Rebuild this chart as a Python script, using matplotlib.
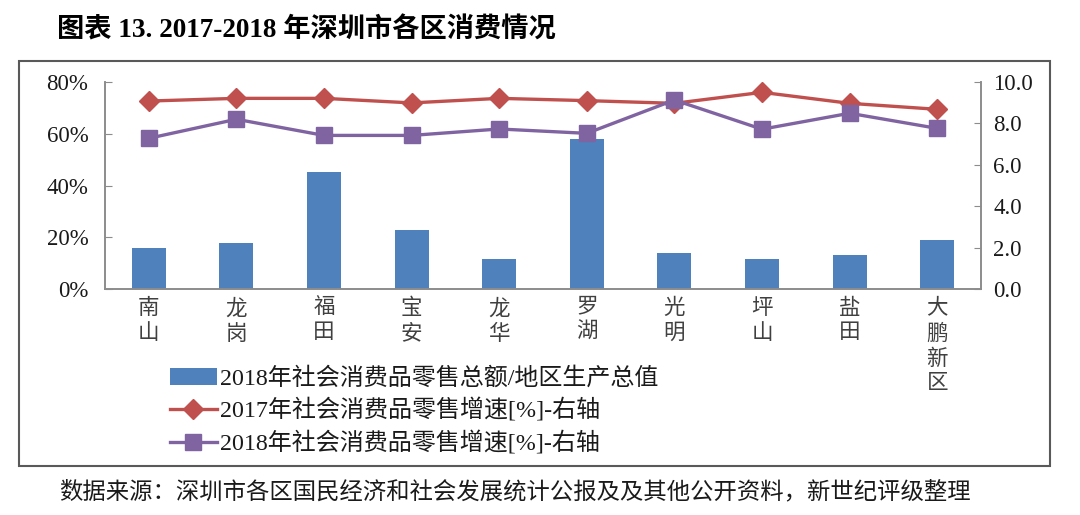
import matplotlib
matplotlib.use("Agg")
import matplotlib.pyplot as plt
from matplotlib.patches import Rectangle
from matplotlib.ticker import FuncFormatter, MultipleLocator
import numpy as np

plt.rcParams['font.family'] = ['Liberation Serif', 'Noto Sans CJK SC', 'DejaVu Sans']

districts = ["南山", "龙岗", "福田", "宝安", "龙华", "罗湖", "光明", "坪山", "盐田", "大鹏新区"]
retail_to_gdp_2018 = [16.0, 17.9, 45.3, 22.7, 11.6, 57.9, 14.0, 11.6, 13.1, 18.8]
growth_2017 = [9.08, 9.21, 9.21, 8.99, 9.21, 9.10, 8.97, 9.50, 8.97, 8.68]
growth_2018 = [7.28, 8.20, 7.42, 7.42, 7.73, 7.52, 9.13, 7.72, 8.49, 7.76]

series_names = ["2018年社会消费品零售总额/地区生产总值",
                "2017年社会消费品零售增速[%]-右轴",
                "2018年社会消费品零售增速[%]-右轴"]
title = "图表 13. 2017-2018 年深圳市各区消费情况"
source = "数据来源：深圳市各区国民经济和社会发展统计公报及及其他公开资料，新世纪评级整理"

W, H = 1080, 515
fig = plt.figure(figsize=(W / 100, H / 100), dpi=100)

def fx(px):
    return px / W

def fy(py):
    return 1 - py / H

# outer frame
fig.patches.append(Rectangle((fx(19), fy(466)), fx(1050) - fx(19), fy(61) - fy(466),
                             transform=fig.transFigure, fill=False,
                             edgecolor="#595959", linewidth=1.5))

ax = fig.add_axes([fx(105), fy(289), fx(981) - fx(105), fy(82) - fy(289)])
ax2 = ax.twinx()

x = np.arange(len(districts))
blue, red, purple = "#4F81BD", "#C0504D", "#8064A2"
bars = ax.bar(x, retail_to_gdp_2018, width=0.39, color=blue, zorder=2)
l1, = ax2.plot(x, growth_2017, color=red, lw=2.4, marker="D", markersize=10,
               markeredgecolor=red, markerfacecolor=red)
l2, = ax2.plot(x, growth_2018, color=purple, lw=2.4, marker="s", markersize=11,
               markeredgecolor=purple, markerfacecolor=purple)

ax.set_xlim(-0.5, len(districts) - 0.5)
ax.set_ylim(0, 80)
ax2.set_ylim(0, 10)
ax.yaxis.set_major_locator(MultipleLocator(20))
ax2.yaxis.set_major_locator(MultipleLocator(2))
ax.yaxis.set_major_formatter(FuncFormatter(lambda v, p: f"{v:.0f}%"))
ax2.yaxis.set_major_formatter(FuncFormatter(lambda v, p: f"{v:.1f}"))

spine_c = "#8C8C8C"
for a in (ax, ax2):
    a.spines["top"].set_visible(False)
    for s in ("left", "right", "bottom"):
        a.spines[s].set_color(spine_c)
        a.spines[s].set_linewidth(1.2)
ax.tick_params(axis="y", direction="in", length=5, color=spine_c, labelsize=16.5, pad=12,
               labelcolor="#1a1a1a")
ax2.tick_params(axis="y", direction="in", length=5, color=spine_c, labelsize=16.5, pad=9,
                labelcolor="#1a1a1a")
ax.set_xticks(x)
ax.set_xticklabels(["\n".join(list(d)) for d in districts], fontsize=15.5,
                   linespacing=1.36, va="top")
ax.tick_params(axis="x", length=0, pad=7, labelcolor="#404040")

leg = fig.legend([bars, l1, l2], series_names, loc="upper left",
                 bbox_to_anchor=(fx(170), fy(367)), frameon=False, fontsize=17.3,
                 handlelength=1.95, handletextpad=0.12, labelspacing=0.36,
                 borderaxespad=0, borderpad=0)
for t in leg.get_texts():
    t.set_color("#1a1a1a")

fig.text(fx(57), fy(30), title, fontsize=19.6, fontweight="bold", va="center", ha="left")
fig.text(fx(59), fy(492), source, fontsize=16.8, va="center", ha="left", color="#1a1a1a")

fig.savefig("out.png", dpi=100)
